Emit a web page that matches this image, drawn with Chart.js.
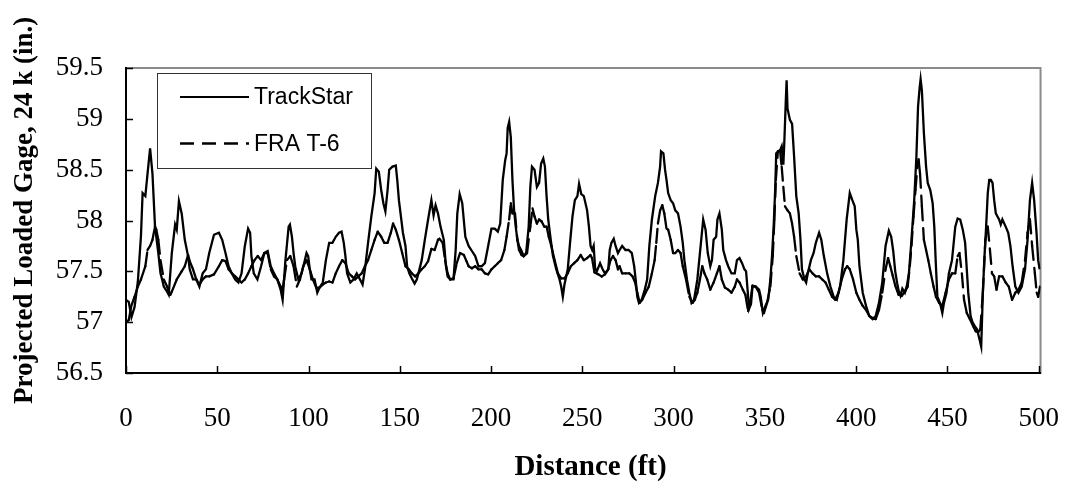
<!DOCTYPE html>
<html>
<head>
<meta charset="utf-8">
<script src="https://cdn.jsdelivr.net/npm/chart.js@4.4.0/dist/chart.umd.min.js"></script>
<style>
  html, body { margin: 0; padding: 0; background: #fff; }
  #wrap { width: 1089px; height: 485px; position: relative; }
</style>
</head>
<body>
<div id="wrap"><canvas id="gage-chart"></canvas></div>
<script>
// Projected loaded gage vs distance - TrackStar and FRA T-6

const xTickValues = [0, 50, 100, 150, 200, 250, 300, 350, 400, 450, 500];
const yTickValues = [56.5, 57, 57.5, 58, 58.5, 59, 59.5];

// [distance (ft), gage (in.)]
const trackStar = [
  [0,57.22],[1.5,57.2],[3,57.05],[4.7,57.15],[6.5,57.4],[8.2,57.85],[9.1,58.27],[10.6,58.24],[11.8,58.46],[13.2,58.71],
  [14.5,58.46],[15.9,57.94],[17.7,57.68],[18.9,57.48],[19.8,57.42],[20.7,57.35],[22.5,57.3],[23.4,57.27],[25.1,57.68],[26.9,57.96],
  [27.8,57.91],[29.0,58.19],[30.5,58.07],[32.2,57.81],[34.0,57.65],[34.9,57.52],[36.7,57.42],[38.5,57.42],[40.2,57.35],[42.0,57.48],
  [43.8,57.52],[45.6,57.68],[48.2,57.86],[50.9,57.88],[52.7,57.81],[54.5,57.68],[56.2,57.55],[58.0,57.48],[59.8,57.42],[61.6,57.39],
  [63.3,57.48],[65.1,57.75],[66.9,57.92],[68.0,57.88],[68.7,57.65],[70.0,57.48],[72.0,57.42],[74.0,57.55],[75.8,57.68],[77.6,57.7],
  [79.3,57.55],[81.1,57.48],[82.9,57.42],[84.7,57.32],[85.8,57.22],[87.3,57.6],[89.1,57.94],[89.8,57.96],[90.9,57.84],[91.8,57.68],
  [92.7,57.55],[94.4,57.42],[96.2,57.48],[98.0,57.61],[98.9,57.68],[99.8,57.65],[100.7,57.52],[101.6,57.42],[103.3,57.42],[104.8,57.29],
  [106.0,57.34],[107.8,57.39],[109.5,57.61],[111.3,57.78],[113.1,57.78],[114.9,57.84],[116.7,57.88],[118.1,57.89],[119.3,57.78],[120.2,57.65],
  [121.1,57.48],[122.9,57.39],[124.6,57.42],[126.4,57.48],[128.2,57.42],[129.6,57.37],[130.9,57.52],[132.6,57.78],[134.4,58.04],[136.2,58.27],
  [137.1,58.51],[138.5,58.48],[139.8,58.3],[141.0,58.17],[142.1,58.09],[143.3,58.3],[144.2,58.5],[146.0,58.53],[147.8,58.54],[148.6,58.4],
  [149.5,58.2],[150.4,58.07],[151.7,57.88],[153.1,57.75],[154.0,57.55],[155.2,57.48],[156.6,57.43],[158.1,57.38],[159.3,57.42],[160.2,57.48],
  [162.0,57.61],[163.7,57.81],[165.5,58.01],[167.3,58.2],[168.5,58.05],[169.6,58.15],[170.9,58.07],[172.3,57.94],[174.1,57.81],[175.3,57.55],
  [176.2,57.45],[177.6,57.42],[179.4,57.42],[180.6,57.71],[181.5,58.07],[182.8,58.26],[184.2,58.17],[185.9,57.84],[187.7,57.75],[189.5,57.7],
  [191.3,57.65],[193.1,57.55],[194.8,57.55],[196.6,57.58],[198.4,57.75],[200.2,57.92],[202.0,57.92],[203.7,57.89],[205.0,57.97],[206.4,58.4],
  [207.7,58.59],[208.5,58.66],[209.1,58.91],[209.9,58.97],[210.8,58.82],[211.7,58.4],[212.6,58.1],[213.5,57.94],[214.4,57.81],[215.3,57.75],
  [216.7,57.7],[217.9,57.65],[219.2,57.68],[220.6,57.94],[221.5,58.33],[222.4,58.53],[223.8,58.5],[225.1,58.33],[226.3,58.37],[227.4,58.56],
  [228.6,58.61],[229.5,58.53],[230.4,58.24],[231.3,58.01],[232.7,57.81],[233.9,57.65],[235.7,57.52],[237.5,57.42],[238.4,57.35],[239.3,57.25],
  [240.2,57.37],[242.0,57.52],[243.4,57.81],[244.6,58.04],[245.9,58.2],[247.3,58.24],[248.2,58.36],[249.4,58.26],[250.8,58.24],[252.6,58.1],
  [253.6,57.94],[254.5,57.75],[255.4,57.71],[256.2,57.75],[257.0,57.53],[257.9,57.5],[259.7,57.58],[261.1,57.52],[262.4,57.48],[264.2,57.52],
  [265.0,57.71],[265.9,57.78],[267.2,57.82],[268.2,57.75],[269.5,57.68],[270.4,57.71],[271.8,57.75],[273.6,57.71],[275.3,57.71],[277.1,57.68],
  [278.4,57.55],[279.2,57.42],[280.1,57.25],[281.0,57.19],[282.5,57.22],[284.2,57.32],[285.5,57.42],[286.7,57.75],[288.1,58.01],[289.9,58.24],
  [291.4,58.37],[292.6,58.53],[293.1,58.68],[294.4,58.66],[295.3,58.5],[296.1,58.4],[297.0,58.27],[298.4,58.2],[299.7,58.17],[300.9,58.1],
  [302.4,58.07],[303.8,57.94],[305.0,57.78],[305.9,57.61],[307.3,57.42],[308.6,57.29],[309.8,57.19],[311.2,57.22],[313.0,57.42],[314.8,57.75],
  [316.2,58.01],[317.5,57.91],[318.7,57.68],[320.1,57.55],[321.0,57.61],[321.9,57.81],[323.3,57.84],[324.0,58.01],[325.1,58.07],[326.4,57.91],
  [327.2,57.71],[328.7,57.61],[329.9,57.55],[331.7,57.48],[333.5,57.48],[334.7,57.61],[336.1,57.63],[337.5,57.58],[338.8,57.52],[339.7,57.5],
  [340.6,57.3],[341.3,57.13],[342.4,57.18],[343.2,57.35],[345.0,57.35],[346.8,57.32],[347.7,57.25],[348.9,57.09],[350.3,57.16],[351.8,57.22],
  [353.0,57.42],[353.9,57.65],[354.8,57.94],[355.7,58.33],[356.2,58.66],[357.5,58.68],[358.3,58.69],[359.2,58.73],[360.1,58.55],[360.6,58.75],
  [361.4,59.15],[361.9,59.38],[362.4,59.1],[363.7,58.99],[364.9,58.95],[366.0,58.63],[367.2,58.24],[368.5,58.07],[369.5,57.81],[370.3,57.52],
  [371.7,57.42],[372.6,57.39],[373.5,57.48],[375.2,57.61],[376.7,57.68],[377.9,57.78],[379.7,57.88],[380.9,57.81],[382.3,57.65],[384.1,57.48],
  [385.9,57.35],[387.7,57.25],[389.4,57.22],[391.2,57.35],[393.0,57.61],[394.8,58.01],[396.5,58.27],[397.9,58.2],[399.2,58.14],[400.1,57.91],
  [400.9,57.81],[401.8,57.55],[403.6,57.29],[405.4,57.16],[407.2,57.06],[409.0,57.03],[410.7,57.06],[412.5,57.19],[414.3,57.39],[416.1,57.75],
  [417.9,57.9],[419.2,57.84],[420.3,57.7],[421.4,57.5],[422.5,57.38],[423.4,57.3],[424.3,57.26],[425.3,57.33],[426.7,57.29],[427.8,57.36],
  [428.9,57.48],[430.3,57.81],[431.8,58.2],[433.0,58.63],[433.9,59.12],[434.8,59.31],[435.3,59.39],[436.0,59.28],[437.1,58.86],[438.3,58.53],
  [439.2,58.37],[440.6,58.3],[441.9,58.17],[442.8,57.94],[443.7,57.55],[444.5,57.25],[445.9,57.19],[447.2,57.09],[448.1,57.19],[449.5,57.29],
  [450.8,57.48],[452.5,57.61],[454.3,57.94],[455.6,58.02],[457.0,58.01],[458.4,57.91],[459.7,57.78],[460.6,57.52],[461.4,57.29],[462.7,57.06],
  [463.7,57.0],[465.0,56.96],[466.2,56.93],[467.6,56.83],[468.5,56.76],[469.4,57.29],[470.3,57.65],[471.2,57.94],[472.1,58.27],[472.9,58.4],
  [473.8,58.4],[474.7,58.37],[475.6,58.2],[476.5,58.07],[477.4,58.04],[478.3,58.01],[479.2,57.96],[480.1,58.01],[481.9,57.94],[483.3,57.88],
  [484.5,57.75],[485.7,57.55],[487.2,57.35],[488.9,57.29],[490.7,57.35],[492.5,57.52],[493.9,57.81],[495.2,58.2],[496.4,58.37],[497.5,58.2],
  [498.8,57.88],[499.7,57.61],[500.5,57.52]
];

const fraT6 = [
  [0,57.0],[1.5,57.02],[2.9,57.16],[4.7,57.25],[6.5,57.35],[8.2,57.42],[10.6,57.55],[11.8,57.71],[13.2,57.75],[14.5,57.81],
  [15.9,57.94],[16.6,57.91],[17.7,57.81],[18.9,57.61],[20.7,57.42],[22.5,57.35],[24.3,57.27],[25.1,57.3],[27.8,57.42],[30.5,57.5],
  [32.2,57.55],[34.0,57.66],[34.9,57.6],[36.7,57.52],[38.5,57.42],[40.2,57.37],[42.0,57.42],[43.8,57.45],[45.6,57.45],[48.2,57.47],
  [50.9,57.55],[52.7,57.61],[54.5,57.6],[56.2,57.52],[58.0,57.48],[59.8,57.45],[61.6,57.42],[63.3,57.39],[65.1,57.42],[66.9,57.48],
  [68.7,57.55],[70.4,57.61],[72.2,57.65],[74.0,57.61],[75.8,57.68],[77.6,57.68],[79.3,57.52],[81.1,57.45],[82.9,57.42],[84.7,57.35],
  [85.6,57.3],[86.6,57.42],[88.2,57.61],[90.0,57.65],[91.8,57.55],[93.6,57.35],[95.3,57.42],[97.1,57.55],[98.9,57.61],[100.7,57.52],
  [102.4,57.42],[104.2,57.34],[106.0,57.34],[107.8,57.37],[109.5,57.39],[111.3,57.4],[113.1,57.39],[114.9,57.48],[116.7,57.55],[118.5,57.61],
  [120.2,57.58],[122.0,57.48],[123.8,57.45],[125.5,57.42],[127.3,57.45],[129.1,57.48],[130.9,57.55],[132.6,57.61],[134.4,57.71],[136.2,57.81],
  [137.9,57.89],[139.8,57.84],[141.5,57.78],[143.3,57.78],[145.1,57.88],[146.3,57.97],[147.8,57.91],[149.5,57.81],[151.3,57.68],[153.1,57.55],
  [154.9,57.52],[156.6,57.48],[158.4,57.45],[160.2,57.48],[162.0,57.52],[163.7,57.55],[165.5,57.6],[167.3,57.72],[169.1,57.71],[170.9,57.81],
  [171.7,57.82],[173.5,57.78],[174.8,57.61],[176.2,57.48],[177.6,57.42],[179.4,57.43],[181.2,57.58],[183.0,57.68],[185.1,57.66],[186.5,57.6],
  [187.7,57.55],[189.5,57.53],[191.3,57.55],[193.1,57.52],[194.8,57.52],[196.6,57.48],[198.4,57.47],[200.2,57.52],[202.0,57.55],[203.7,57.58],
  [205.5,57.61],[207.3,57.71],[208.5,57.84],[209.9,58.01],[210.8,58.17],[211.7,58.07],[213.1,58.07],[214.4,57.81],[215.3,57.71],[216.7,57.66],
  [217.9,57.65],[219.7,57.68],[221.5,57.94],[222.7,58.12],[223.8,58.04],[225.1,57.97],[226.3,58.01],[227.7,57.99],[229.1,57.94],[230.4,57.94],
  [231.6,57.84],[233.0,57.75],[234.8,57.61],[236.6,57.48],[238.4,57.43],[240.2,57.43],[242.0,57.48],[243.7,57.55],[245.5,57.58],[247.3,57.61],
  [249.1,57.66],[250.8,57.61],[252.6,57.63],[254.4,57.66],[255.3,57.63],[256.6,57.49],[258.8,57.47],[260.6,57.45],[262.4,57.47],[264.2,57.52],
  [265.4,57.61],[266.8,57.65],[268.2,57.61],[269.5,57.52],[270.4,57.55],[271.8,57.48],[273.6,57.48],[275.7,57.48],[277.5,57.45],[278.9,57.39],
  [280.1,57.29],[281.4,57.19],[282.8,57.22],[284.6,57.29],[286.4,57.35],[288.1,57.48],[289.6,57.61],[290.5,57.78],[291.4,57.97],[292.6,58.1],
  [293.8,58.15],[294.9,58.07],[296.1,57.92],[297.0,57.91],[298.4,57.81],[299.7,57.68],[300.9,57.68],[302.4,57.71],[303.8,57.68],[305.0,57.55],
  [306.8,57.42],[308.6,57.25],[310.4,57.19],[311.6,57.22],[313.0,57.29],[314.4,57.42],[315.7,57.55],[316.9,57.48],[318.4,57.42],[320.1,57.32],
  [321.9,57.39],[323.7,57.48],[325.1,57.55],[326.4,57.42],[328.1,57.34],[329.9,57.32],[331.7,57.29],[333.5,57.35],[334.7,57.42],[336.1,57.39],
  [337.9,57.32],[339.3,57.27],[340.8,57.11],[342.4,57.25],[343.2,57.36],[345.0,57.35],[346.8,57.29],[348.6,57.12],[349.5,57.09],[351.2,57.19],
  [353.0,57.35],[354.3,57.65],[355.2,58.01],[356.0,58.4],[357.1,58.68],[358.3,58.69],[359.2,58.53],[360.1,58.33],[361.0,58.14],[362.4,58.1],
  [363.7,58.07],[364.9,57.97],[366.0,57.84],[367.2,57.65],[369.0,57.48],[370.8,57.42],[372.6,57.45],[374.3,57.52],[376.1,57.48],[377.9,57.45],
  [379.7,57.45],[381.4,57.42],[383.2,57.39],[385.0,57.32],[386.8,57.25],[388.5,57.22],[390.3,57.29],[392.1,57.42],[393.9,57.52],[395.1,57.55],
  [396.5,57.52],[398.3,57.42],[400.1,57.29],[401.8,57.22],[403.6,57.16],[405.4,57.12],[407.2,57.06],[409.0,57.04],[410.7,57.03],[412.5,57.12],
  [414.3,57.29],[416.1,57.52],[417.5,57.63],[418.7,57.55],[420.0,57.46],[421.4,57.36],[423.2,57.27],[425.0,57.26],[426.7,57.3],[428.2,57.35],
  [429.4,57.55],[430.3,57.75],[431.4,58.04],[432.5,58.3],[433.5,58.53],[434.2,58.6],[435.0,58.46],[436.0,58.14],[437.1,57.81],[438.3,57.71],
  [439.5,57.61],[440.9,57.48],[442.4,57.35],[443.7,57.25],[445.4,57.19],[447.2,57.16],[449.0,57.29],[450.8,57.42],[452.5,57.48],[454.3,57.48],
  [455.6,57.65],[456.6,57.68],[457.9,57.48],[459.1,57.22],[460.6,57.09],[462.3,57.03],[464.1,56.96],[465.5,56.91],[466.8,56.9],[468.0,56.93],
  [469.4,57.29],[470.8,57.81],[472.1,57.94],[473.3,57.71],[474.4,57.48],[475.6,57.45],[476.9,57.32],[478.3,57.45],[480.1,57.45],[481.9,57.39],
  [483.6,57.35],[485.4,57.22],[487.2,57.29],[488.9,57.32],[490.7,57.39],[492.5,57.61],[493.9,57.88],[495.2,58.01],[496.4,57.75],[497.9,57.48],
  [498.9,57.29],[499.7,57.25],[500.7,57.35]
];

const serif = "'Liberation Serif', 'Times New Roman', serif";
const sans = "'Liberation Sans', Arial, sans-serif";

Chart.defaults.font.family = serif;
Chart.defaults.color = '#000';

const toPoints = arr => arr.map(p => ({ x: p[0], y: p[1] }));

// grey plot frame, inside tick marks and the boxed legend
const plotDecor = {
  id: 'plotDecor',
  beforeDraw(chart) {
    const { ctx, chartArea: a } = chart;
    ctx.save();
    ctx.strokeStyle = '#8a8a8a';
    ctx.lineWidth = 2;
    ctx.strokeRect(a.left, a.top, a.right - a.left, a.bottom - a.top);
    ctx.restore();
  },
  afterDraw(chart) {
    const { ctx, chartArea: a, scales } = chart;
    ctx.save();
    ctx.strokeStyle = '#000';
    ctx.lineWidth = 1.5;
    scales.x.ticks.forEach(t => {
      const px = Math.round(scales.x.getPixelForValue(t.value)) + 0.5;
      ctx.beginPath();
      ctx.moveTo(px, a.bottom);
      ctx.lineTo(px, a.bottom - 7);
      ctx.stroke();
    });
    scales.y.ticks.forEach(t => {
      const py = Math.round(scales.y.getPixelForValue(t.value)) + 0.5;
      ctx.beginPath();
      ctx.moveTo(a.left, py);
      ctx.lineTo(a.left + 7, py);
      ctx.stroke();
    });

    // legend box
    const bx = a.left + 31, by = a.top + 5, bw = 214, bh = 95;
    ctx.fillStyle = '#fff';
    ctx.fillRect(bx, by, bw, bh);
    ctx.strokeStyle = '#333';
    ctx.lineWidth = 1;
    ctx.strokeRect(bx + 0.5, by + 0.5, bw, bh);

    ctx.font = '23px ' + sans;
    ctx.textBaseline = 'middle';
    ctx.textAlign = 'left';
    chart.data.datasets.forEach((ds, i) => {
      const ly = by + 24 + i * 46.5;
      ctx.beginPath();
      ctx.strokeStyle = ds.borderColor;
      ctx.lineWidth = ds.borderDash ? 2.6 : 2;
      ctx.setLineDash(ds.borderDash || []);
      ctx.moveTo(bx + 23, ly);
      ctx.lineTo(bx + 92, ly);
      ctx.stroke();
      ctx.setLineDash([]);
      ctx.fillStyle = '#000';
      ctx.fillText(ds.label, bx + 97, ly + 1);
    });
    ctx.restore();
  }
};

new Chart(document.getElementById('gage-chart'), {
  type: 'line',
  data: {
    datasets: [
      {
        label: 'TrackStar',
        data: toPoints(trackStar),
        borderColor: '#000',
        borderWidth: 2.3,
        pointRadius: 0,
        tension: 0,
        fill: false
      },
      {
        label: 'FRA T-6',
        data: toPoints(fraT6),
        borderColor: '#000',
        borderWidth: 2.3,
        borderDash: [14, 8],
        borderCapStyle: 'round',
        pointRadius: 0,
        tension: 0,
        fill: false,
        // restart the dash on every segment, like the spreadsheet plot does
        segment: {
          borderDashOffset: c => (c.p0DataIndex % 2) * 0.01
        }
      }
    ]
  },
  options: {
    responsive: true,
    maintainAspectRatio: false,
    animation: false,
    events: [],
    layout: { padding: { top: 68, right: 23, bottom: 0, left: 0 } },
    plugins: {
      legend: { display: false },
      tooltip: { enabled: false }
    },
    scales: {
      x: {
        type: 'linear',
        min: 0,
        max: 501,
        afterFit: s => { s.height = 112; },
        afterBuildTicks: s => { s.ticks = xTickValues.map(v => ({ value: v })); },
        grid: { display: false, drawTicks: false },
        border: { display: true, color: '#000', width: 2 },
        ticks: {
          includeBounds: false,
          autoSkip: false,
          maxRotation: 0,
          padding: 30,
          font: { size: 27 },
          color: '#000',
          callback: v => String(v)
        },
        title: {
          display: true,
          // two leading spaces nudge the centred title to the right, as in the original
          text: '  Distance (ft)',
          color: '#000',
          font: { size: 29, weight: 'bold' },
          padding: { top: 0, bottom: 0 }
        }
      },
      y: {
        min: 56.5,
        max: 59.5,
        afterFit: s => { s.width = 126; },
        afterBuildTicks: s => { s.ticks = yTickValues.map(v => ({ value: v })); },
        grid: { display: false, drawTicks: false },
        border: { display: true, color: '#000', width: 2 },
        ticks: {
          padding: 23,
          font: { size: 27 },
          color: '#000',
          callback: v => String(v)
        },
        title: {
          display: true,
          // leading spaces lift the rotated title a little, as in the original
          text: '   Projected Loaded Gage, 24 k (in.)',
          color: '#000',
          font: { size: 27, weight: 'bold' },
          padding: { top: 9, bottom: 0 }
        }
      }
    }
  },
  plugins: [plotDecor]
});
</script>
</body>
</html>
